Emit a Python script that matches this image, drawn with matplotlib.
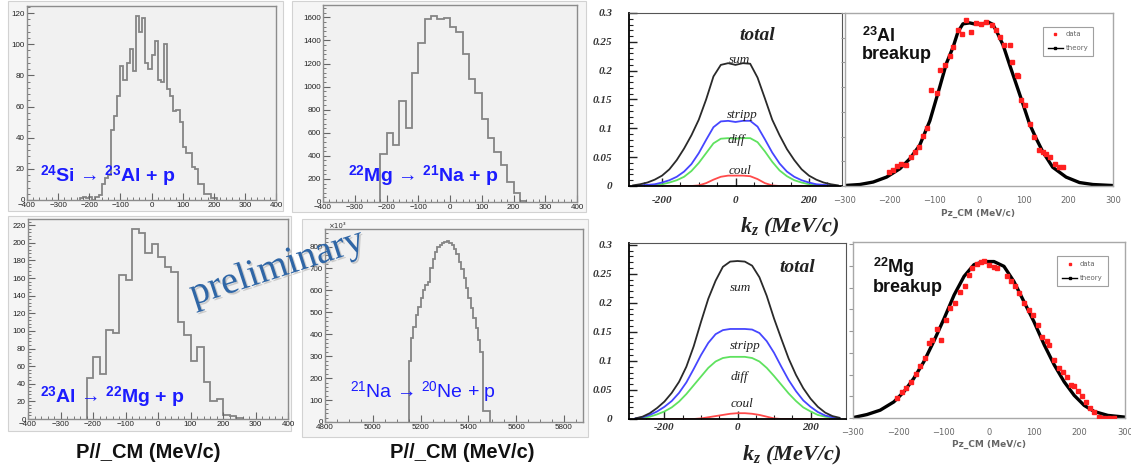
import matplotlib

matplotlib.use("Agg")
import matplotlib.pyplot as plt
import matplotlib.patheffects as pe
import numpy as np
from matplotlib.lines import Line2D
from matplotlib.patches import Rectangle
from matplotlib.ticker import MultipleLocator

W, H = 1131, 468

# ---- measured momentum histograms (counts per bin) ----
SI24_EDGES = np.arange(-230, 211, 10)
SI24_COUNTS = [1, 2, 1, 2, 0, 2, 3, 10, 14, 16, 45, 54, 67, 86, 77, 88, 97, 83, 118, 108,
               117, 88, 84, 93, 102, 77, 76, 100, 71, 67, 57, 58, 50, 34, 30, 30, 21, 20,
               10, 10, 4, 4, 1, 1]

MG22_EDGES = np.arange(-220, 241, 20)
MG22_COUNTS = [414, 602, 498, 877, 645, 1114, 1380, 1589, 1615, 1583, 1591, 1519, 1476,
               1279, 1062, 946, 723, 558, 434, 318, 174, 78, 6]

AL23_EDGES = np.arange(-220, 261, 20)
AL23_COUNTS = [47, 70, 51, 101, 98, 163, 158, 216, 211, 188, 199, 184, 173, 167, 110, 95,
               66, 82, 42, 20, 23, 5, 3, 1]

NA21_EDGES = np.arange(5150, 5491, 10)
NA21_COUNTS = [276, 385, 435, 488, 526, 565, 601, 624, 640, 700, 745, 776, 800, 809, 816,
               821, 824, 818, 806, 790, 768, 730, 698, 655, 609, 564, 518, 473, 427, 374,
               321, 48, 48, 48]

# ---- theory components vs k_z ----
KZ = [-280, -260, -240, -220, -200, -180, -160, -140, -120, -100, -80, -60, -40, -20, 0,
      20, 40, 60, 80, 100, 120, 140, 160, 180, 200, 220, 240, 260, 280]

AL_SUM = [0.001, 0.003, 0.006, 0.011, 0.018, 0.029, 0.045, 0.065, 0.088, 0.115, 0.150,
          0.190, 0.210, 0.213, 0.210, 0.213, 0.212, 0.188, 0.152, 0.115, 0.088, 0.064,
          0.045, 0.029, 0.018, 0.011, 0.006, 0.003, 0.001]
AL_STRIPP = [0.0, 0.001, 0.002, 0.003, 0.006, 0.010, 0.016, 0.025, 0.038, 0.057, 0.080,
             0.102, 0.112, 0.113, 0.111, 0.113, 0.113, 0.103, 0.081, 0.058, 0.039, 0.025,
             0.016, 0.010, 0.006, 0.003, 0.002, 0.001, 0.0]
AL_DIFF = [0.0, 0.0, 0.001, 0.002, 0.003, 0.006, 0.010, 0.016, 0.026, 0.040, 0.057, 0.074,
           0.082, 0.083, 0.082, 0.083, 0.083, 0.076, 0.060, 0.042, 0.027, 0.017, 0.010,
           0.006, 0.003, 0.002, 0.001, 0.0, 0.0]
AL_COUL = [0, 0, 0, 0, 0, 0, 0, 0, 0, 0.001, 0.005, 0.011, 0.016, 0.018, 0.018, 0.018,
           0.017, 0.012, 0.005, 0.001, 0, 0, 0, 0, 0, 0, 0, 0, 0]

MG_SUM = [0.001, 0.004, 0.010, 0.019, 0.030, 0.045, 0.064, 0.090, 0.125, 0.167, 0.207,
          0.238, 0.262, 0.271, 0.272, 0.271, 0.264, 0.244, 0.212, 0.173, 0.138, 0.104,
          0.076, 0.053, 0.035, 0.021, 0.011, 0.005, 0.002]
MG_STRIPP = [0.001, 0.003, 0.007, 0.013, 0.021, 0.031, 0.045, 0.063, 0.086, 0.110, 0.131,
             0.146, 0.153, 0.155, 0.155, 0.155, 0.154, 0.148, 0.134, 0.114, 0.090, 0.067,
             0.048, 0.032, 0.021, 0.012, 0.006, 0.003, 0.001]
MG_DIFF = [0.0, 0.002, 0.004, 0.008, 0.013, 0.020, 0.030, 0.043, 0.058, 0.073, 0.088,
           0.099, 0.105, 0.107, 0.107, 0.107, 0.105, 0.099, 0.088, 0.074, 0.059, 0.044,
           0.031, 0.020, 0.013, 0.007, 0.004, 0.002, 0.0]
MG_COUL = [0, 0, 0, 0, 0, 0, 0, 0, 0, 0.001, 0.003, 0.005, 0.007, 0.009, 0.010, 0.010,
           0.009, 0.007, 0.004, 0.001, 0, 0, 0, 0, 0, 0, 0, 0, 0]

# ---- data vs theory comparison ----
AL_TH_PZ = [-300, -267, -237, -207, -177, -155, -133, -110, -88, -73, -58, -47, -36, -21,
            -6, 9, 20, 31, 42, 54, 69, 83, 98, 113, 128, 143, 165, 195, 225, 255, 298]
AL_TH = [0.001, 0.003, 0.008, 0.018, 0.035, 0.055, 0.082, 0.132, 0.200, 0.248, 0.281,
         0.312, 0.328, 0.330, 0.327, 0.328, 0.332, 0.327, 0.308, 0.285, 0.244, 0.207,
         0.167, 0.126, 0.096, 0.069, 0.038, 0.018, 0.007, 0.003, 0.001]
AL_DATA_PZ = [-201, -192, -183, -174, -164, -153, -144, -135, -125, -116, -107, -95, -88,
              -77, -66, -58, -47, -39, -30, -17, -6, 5, 16, 28, 39, 46, 57, 69, 74, 85, 87,
              95, 104, 115, 124, 134, 143, 150, 159, 171, 180, 189]
AL_DATA = [0.028, 0.032, 0.040, 0.045, 0.042, 0.059, 0.069, 0.079, 0.102, 0.118, 0.194,
           0.188, 0.234, 0.244, 0.264, 0.281, 0.315, 0.308, 0.335, 0.312, 0.330, 0.327,
           0.332, 0.325, 0.315, 0.301, 0.286, 0.285, 0.251, 0.224, 0.222, 0.173, 0.163,
           0.126, 0.099, 0.072, 0.069, 0.065, 0.059, 0.045, 0.038, 0.038]

MG_TH_PZ = [-295, -269, -240, -210, -188, -166, -144, -122, -99, -77, -55, -33, -11, 11,
            33, 55, 77, 99, 122, 144, 166, 188, 210, 232, 262, 300]
MG_TH = [0.002, 0.008, 0.018, 0.037, 0.060, 0.091, 0.129, 0.176, 0.229, 0.283, 0.326,
         0.353, 0.360, 0.360, 0.349, 0.314, 0.268, 0.222, 0.168, 0.122, 0.083, 0.052,
         0.029, 0.015, 0.006, 0.002]
MG_DATA_PZ = [-203, -192, -182, -173, -162, -153, -142, -133, -125, -114, -105, -94, -85,
              -74, -64, -54, -44, -37, -27, -18, -10, 0, 10, 18, 39, 48, 57, 66, 77, 88, 98,
              107, 118, 127, 133, 144, 155, 164, 173, 181, 188, 197, 206, 214, 223, 232,
              243, 254, 265, 275]
MG_DATA = [0.045, 0.059, 0.069, 0.083, 0.102, 0.120, 0.137, 0.172, 0.179, 0.205, 0.179,
           0.226, 0.254, 0.264, 0.291, 0.303, 0.329, 0.345, 0.354, 0.359, 0.362, 0.351,
           0.348, 0.346, 0.326, 0.316, 0.303, 0.287, 0.264, 0.249, 0.237, 0.214, 0.187,
           0.177, 0.168, 0.133, 0.115, 0.105, 0.095, 0.075, 0.074, 0.062, 0.051, 0.037,
           0.022, 0.014, 0.002, 0.0, 0.0, 0.0]

THEORY_YTICKS = [0, 0.05, 0.1, 0.15, 0.2, 0.25, 0.3]
THEORY_YLABELS = ["0", "0.05", "0.1", "0.15", "0.2", "0.25", "0.3"]
THEORY_XTICKS = [-200, 0, 200]
THEORY_XLABELS = ["-200", "0", "200"]

HIST_BG = "#f1f1f1"
PAD_BG = "#f5f5f5"
BLUE_TXT = "#1c1cff"

plt.rcParams["mathtext.fontset"] = "custom"
plt.rcParams["mathtext.it"] = "Liberation Serif:italic:bold"
plt.rcParams["mathtext.bf"] = "Liberation Sans:bold"
plt.rcParams["mathtext.rm"] = "Liberation Sans"

fig = plt.figure(figsize=(W / 100, H / 100), dpi=100)
fig.patch.set_facecolor("white")


def frac(x0, y0, x1, y1):
    return [x0 / W, 1 - y1 / H, (x1 - x0) / W, (y1 - y0) / H]


def ftext(x, y, s, **kw):
    return fig.text(x / W, 1 - y / H, s, **kw)


def pad(x0, y0, x1, y1):
    fig.patches.append(Rectangle((x0 / W, 1 - y1 / H), (x1 - x0) / W, (y1 - y0) / H,
                                 transform=fig.transFigure, facecolor=PAD_BG,
                                 edgecolor="#d2d2d2", lw=0.8, zorder=-1))


def hist_panel(box, edges, counts, xlim, ylim, xstep, xminor, ystep, yminor):
    ax = fig.add_axes(frac(*box), facecolor=HIST_BG)
    ax.stairs(counts, edges, color="#858585", lw=1.3, baseline=0)
    ax.set_xlim(*xlim)
    ax.set_ylim(*ylim)
    ax.xaxis.set_major_locator(MultipleLocator(xstep))
    ax.xaxis.set_minor_locator(MultipleLocator(xminor))
    ax.yaxis.set_major_locator(MultipleLocator(ystep))
    ax.yaxis.set_minor_locator(MultipleLocator(yminor))
    ax.tick_params(which="both", direction="in", color="#666", labelsize=5.8,
                   labelcolor="#222", pad=1.5)
    ax.tick_params(which="major", length=5, width=0.8)
    ax.tick_params(which="minor", length=2.5, width=0.6)
    fig.canvas.draw_idle()
    for lab in ax.get_xticklabels() + ax.get_yticklabels():
        lab.set_fontfamily("Liberation Sans")
    # lift the "0" count label a little so it clears the first momentum label
    ax.get_yticklabels()[0].set_verticalalignment("bottom")
    for sp in ax.spines.values():
        sp.set_color("#8c8c8c")
        sp.set_linewidth(1.0)
    return ax


# histogram pads
pad(8, 1, 283, 211)
pad(292, 1, 586, 212)
pad(8, 216, 291, 431)
pad(302, 219, 588, 437)

hist_panel((27, 6, 276, 200), SI24_EDGES, SI24_COUNTS, (-400, 400), (0, 124.5), 100, 20, 20, 4)
hist_panel((323, 5, 577, 202), MG22_EDGES, MG22_COUNTS, (-400, 400), (0, 1707), 100, 20, 200, 40)
hist_panel((28, 219, 288, 419), AL23_EDGES, AL23_COUNTS, (-400, 400), (0, 227), 100, 20, 20, 4)
ax4 = hist_panel((325, 229, 583, 422), NA21_EDGES, NA21_COUNTS, (4800, 5880), (0, 880), 200, 50, 100, 20)
ax4.text(0.01, 1.0, "×10³", transform=ax4.transAxes, fontsize=5, color="#333",
         va="bottom", ha="left")

lab_font = ["Liberation Sans", "DejaVu Sans"]
ftext(40, 182, r"$^{\mathbf{24}}$Si → $^{\mathbf{23}}$Al + p", fontsize=14, fontweight="bold",
      color=BLUE_TXT, family=lab_font, va="baseline")
ftext(348, 182, r"$^{\mathbf{22}}$Mg → $^{\mathbf{21}}$Na + p", fontsize=14, fontweight="bold",
      color=BLUE_TXT, family=lab_font, va="baseline")
ftext(40, 403, r"$^{\mathbf{23}}$Al → $^{\mathbf{22}}$Mg + p", fontsize=14, fontweight="bold",
      color=BLUE_TXT, family=lab_font, va="baseline")
ftext(350, 398, r"$^{\mathrm{21}}$Na → $^{\mathrm{20}}$Ne + p", fontsize=14, color=BLUE_TXT,
      family=lab_font, va="baseline")

for xc in (148, 462):
    ftext(xc, 452, "P//_CM (MeV/c)", fontsize=14.5, fontweight="bold", color="#111",
          family="Liberation Sans", ha="center", va="center")

ftext(277, 268, "preliminary", fontsize=28, color="#2f66a6", family="Liberation Serif",
      rotation=18, ha="center", va="center", rotation_mode="anchor",
      path_effects=[pe.withSimplePatchShadow(offset=(1.2, -1.2), shadow_rgbFace="#b0b0b0",
                                             alpha=0.6)])


# ---- theory panels ----
def theory_panel(box, xlim, ylim, curves):
    ax = fig.add_axes(frac(*box), facecolor="white")
    for vals, color in curves:
        ax.plot(KZ, vals, color=color, lw=1.3, solid_capstyle="round")
    ax.set_xlim(*xlim)
    ax.set_ylim(*ylim)
    ax.set_xticks(THEORY_XTICKS, labels=THEORY_XLABELS)
    ax.set_yticks(THEORY_YTICKS, labels=THEORY_YLABELS)
    ax.xaxis.set_minor_locator(MultipleLocator(50))
    ax.yaxis.set_minor_locator(MultipleLocator(0.01))
    ax.tick_params(which="both", direction="in", color="#222")
    ax.tick_params(which="major", length=6, width=1.0)
    ax.tick_params(which="minor", length=3, width=0.8)
    ax.tick_params(axis="y", pad=12)
    ax.tick_params(axis="x", pad=7)
    for lab in ax.get_xticklabels() + ax.get_yticklabels():
        lab.set_fontfamily("Liberation Serif")
        lab.set_fontstyle("italic")
        lab.set_fontweight("bold")
        lab.set_fontsize(8)
        lab.set_color("#333")
    ax.spines["left"].set_linewidth(1.3)
    ax.spines["bottom"].set_linewidth(1.3)
    for side in ("top", "right"):
        ax.spines[side].set_color("#555")
        ax.spines[side].set_linewidth(0.8)
    return ax


C_SUM, C_STRIPP, C_DIFF, C_COUL = "#2a2a2a", "#4646ff", "#5fe25f", "#ff4a4a"

theory_panel((629, 13, 842, 186), (-290, 290), (0, 0.3),
             [(AL_COUL, C_COUL), (AL_DIFF, C_DIFF), (AL_STRIPP, C_STRIPP), (AL_SUM, C_SUM)])
axT2 = theory_panel((629, 243, 846, 419), (-297, 297), (0, 0.303),
                    [(MG_COUL, C_COUL), (MG_DIFF, C_DIFF), (MG_STRIPP, C_STRIPP), (MG_SUM, C_SUM)])
axT2.tick_params(axis="x", pad=3)

serif_it = dict(family="Liberation Serif", style="italic", ha="center", va="center", color="#222")
ftext(757, 36, "total", fontsize=14, fontweight="bold", **serif_it)
ftext(740, 60, "sum", fontsize=9.5, **serif_it)
ftext(742, 115, "stripp", fontsize=9.5, **serif_it)
ftext(736, 140, "diff", fontsize=9.5, **serif_it)
ftext(740, 171, "coul", fontsize=9.5, **serif_it)

ftext(797, 268, "total", fontsize=14, fontweight="bold", **serif_it)
ftext(741, 288, "sum", fontsize=9.5, **serif_it)
ftext(745, 346, "stripp", fontsize=9.5, **serif_it)
ftext(739, 377, "diff", fontsize=9.5, **serif_it)
ftext(742, 404, "coul", fontsize=9.5, **serif_it)

for xc, yc in ((790, 227), (792, 455)):
    ftext(xc, yc, "$k_z$ (MeV/c)", fontsize=16, fontweight="bold", **serif_it)


# ---- data vs theory panels ----
def data_panel(box, ylim, th_x, th_y, d_x, d_y, legend_anchor, label, label_xy, xlab_xy):
    ax = fig.add_axes(frac(*box), facecolor="white")
    ax.plot(th_x, th_y, color="black", lw=2.4, zorder=2)
    ax.errorbar(d_x, d_y, xerr=3.5, fmt="s", ms=2.6, color="#ff2020", elinewidth=0.8,
                capsize=0, zorder=3, clip_on=True)
    ax.set_xlim(-300, 300)
    ax.set_ylim(*ylim)
    ax.xaxis.set_major_locator(MultipleLocator(100))
    ax.yaxis.set_major_locator(MultipleLocator(0.05))
    ax.tick_params(axis="y", labelleft=False, length=3, color="#999", direction="out")
    ax.tick_params(axis="x", length=0, labelsize=6, labelcolor="#666", pad=7)
    for sp in ax.spines.values():
        sp.set_color("#a8a8a8")
        sp.set_linewidth(1.0)
    handles = [Line2D([], [], color="#ff2020", marker="s", ls="none", ms=2),
               Line2D([], [], color="black", marker="s", ms=2, lw=1)]
    leg = ax.legend(handles, ["data", "theory"], loc="upper right",
                    bbox_to_anchor=legend_anchor, fontsize=5, frameon=True, fancybox=False,
                    edgecolor="#888", handlelength=2.2, borderpad=0.7, labelspacing=1.1,
                    handletextpad=0.4)
    leg.get_frame().set_linewidth(0.8)
    for t in leg.get_texts():
        t.set_color("#666")
    ftext(label_xy[0], label_xy[1], label, fontsize=13, fontweight="bold", color="#111",
          family="Liberation Sans", va="top", ha="left", linespacing=1.0)
    ftext(xlab_xy[0], xlab_xy[1], "Pz_CM (MeV/c)", fontsize=6.5, fontweight="bold",
          color="#666", ha="center", va="center")
    return ax


data_panel((845, 13, 1113, 186), (0, 0.35), AL_TH_PZ, AL_TH, AL_DATA_PZ, AL_DATA,
           (0.94, 0.942), "$^{\\mathbf{23}}$Al\nbreakup", (862, 27), (978, 213))
data_panel((853, 242, 1125, 418), (0, 0.405), MG_TH_PZ, MG_TH, MG_DATA_PZ, MG_DATA,
           (0.949, 0.9375), "$^{\\mathbf{22}}$Mg\nbreakup", (873, 256), (989, 444))

fig.savefig("out.png", dpi=100)
